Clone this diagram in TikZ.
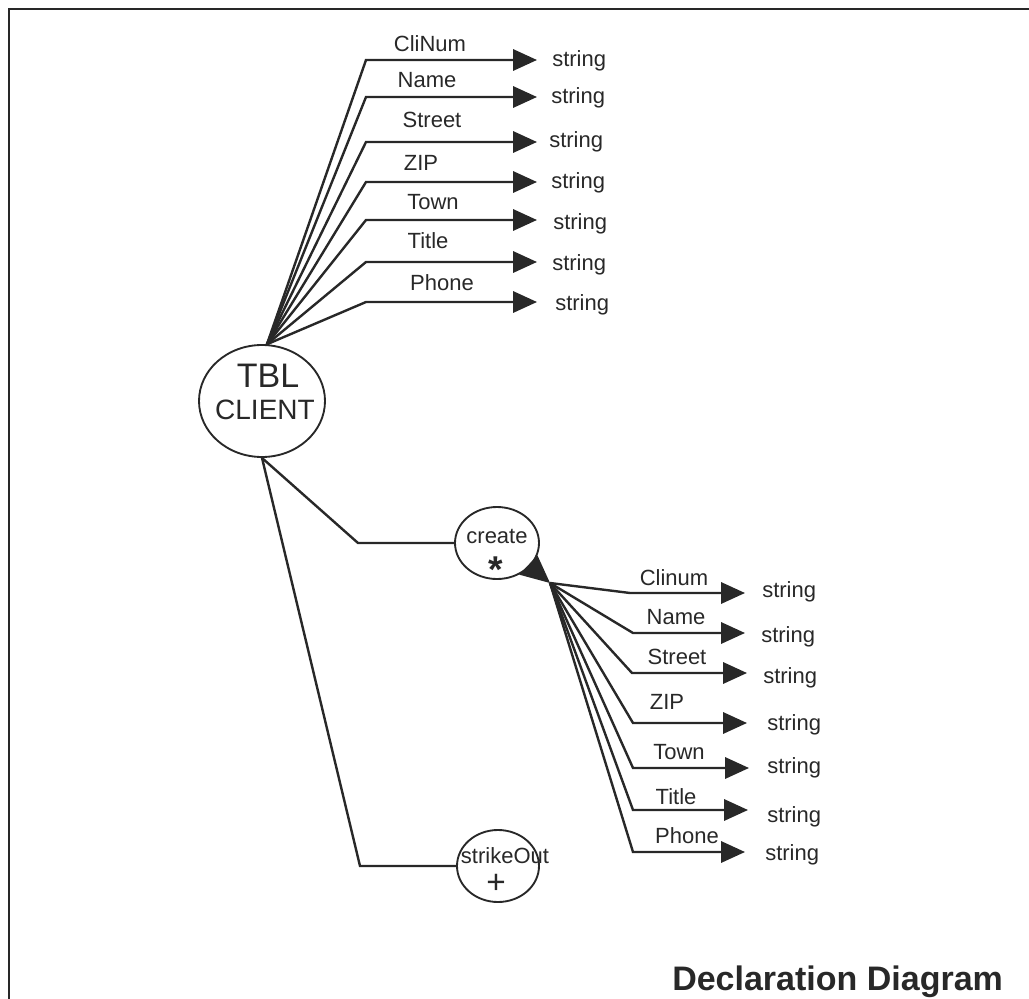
\documentclass[tikz,border=0pt]{standalone}
\usepackage{fontspec}
\setmainfont{Liberation Sans}
\usetikzlibrary{arrows.meta,shapes.geometric}
\definecolor{ink}{RGB}{40,40,40}
\begin{document}
\begin{tikzpicture}[x=0.75pt,y=-0.75pt,
  every node/.style={inner sep=0pt, text=ink},
  lbl/.style={font=\fontsize{16.5}{18}\selectfont},
  typ/.style={font=\fontsize{16.5}{18}\selectfont, anchor=west},
  link/.style={draw=ink, line width=1.8pt, line join=miter},
  attr/.style={link, -{Triangle[length=18pt,width=16pt]}},
  bubble/.style={draw=ink, line width=1.4pt, ellipse, fill=white}]
\useasboundingbox (0,0) rectangle (1029,999);
\draw[ink, line width=2.2pt] (1029,9) -- (9,9) -- (9,999);

% main nodes
\node[bubble, minimum width=94.5pt, minimum height=84pt] (client) at (262,401) {};
\node[font=\fontsize{25.5}{28}\selectfont] (tbl) at (268,376) {TBL};
\node[font=\fontsize{21}{24}\selectfont] (cln) at (265,410) {CLIENT};

\node[bubble, minimum width=63pt, minimum height=54pt] (create) at (497,543) {};
\node[lbl] (createt) at (497,536) {create};
\node[font=\fontsize{28}{30}\selectfont\bfseries, anchor=base] (star) at (496,582) {*};

\node[bubble, minimum width=61.5pt, minimum height=54pt] (strike) at (498,866) {};
\node[lbl] (striket) at (505,856) {strikeOut};
\node[font=\fontsize{25}{27}\selectfont, anchor=base] (plus) at (496,893) {+};

% links from client
\coordinate (kc) at (358,543);
\coordinate (ks) at (360,866);
\draw[link] (client.south) -- (kc) -- (create.west);
\draw[link] (client.south) -- (ks) -- (strike.west);

% upper fan
\foreach \nm/\y/\lx/\ly/\sx/\sy in {CliNum/60/430/44/552/61, Name/97/427/80/551/98, Street/142/432/120/549/142, ZIP/182/421/163/551/183, Town/220/433/202/553/224, Title/262/428/241/552/265, Phone/302/442/283/555/305}{
  \coordinate (ka\nm) at (366,\y);
  \coordinate (ta\nm) at (537,\y);
  \draw[attr] (client.85) -- (ka\nm) -- (ta\nm);
  \node[lbl] (la\nm) at (\lx,\ly) {\nm};
  \node[typ] (sa\nm) at (\sx,\sy) {string};
}

% lower fan
\coordinate (cv) at (550,583);
\fill[ink] (create.-17) -- (create.-55) -- (cv) -- cycle;
\foreach \nm/\kx/\y/\tx/\lx/\ly/\sx/\sy in {Clinum/630/593/745/674/578/762/592, Name/633/633/745/676/617/761/637, Street/632/673/747/677/657/763/678, ZIP/633/723/747/667/702/767/725, Town/633/768/749/679/752/767/768, Title/633/810/748/676/797/767/817, Phone/633/852/745/687/836/765/855}{
  \coordinate (kb\nm) at (\kx,\y);
  \coordinate (tb\nm) at (\tx,\y);
  \draw[attr] (cv) -- (kb\nm) -- (tb\nm);
  \node[lbl] (lb\nm) at (\lx,\ly) {\nm};
  \node[typ] (sb\nm) at (\sx,\sy) {string};
}

\node[font=\fontsize{25.5}{28}\selectfont\bfseries, anchor=base west] (title) at (672,990) {Declaration Diagram};
\end{tikzpicture}
\end{document}
